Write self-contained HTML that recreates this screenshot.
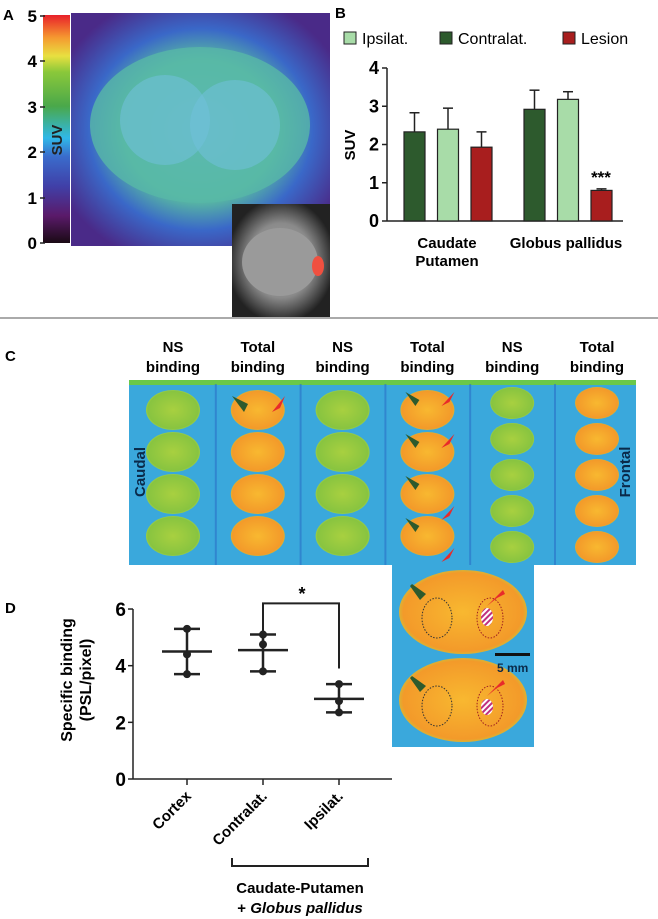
<!DOCTYPE html>
<html><head><meta charset="utf-8"><style>
body{margin:0;background:#fff;font-family:"Liberation Sans",Arial,sans-serif;}
#root{position:relative;width:658px;height:919px;overflow:hidden;}
.abs{position:absolute;}
</style></head><body>
<div id="root">
<svg class="abs" style="left:0;top:0" width="658" height="919">
<defs>
<linearGradient id="cbar" x1="0" y1="1" x2="0" y2="0">
<stop offset="0" stop-color="#1a0a14"/><stop offset="0.12" stop-color="#5a1a6a"/><stop offset="0.25" stop-color="#4040a8"/>
<stop offset="0.38" stop-color="#3a6ccc"/><stop offset="0.46" stop-color="#30b8e8"/><stop offset="0.6" stop-color="#4aa84a"/>
<stop offset="0.75" stop-color="#8ac83a"/><stop offset="0.82" stop-color="#e8e040"/><stop offset="0.9" stop-color="#f59a30"/><stop offset="1" stop-color="#e8202a"/>
</linearGradient>
<radialGradient id="pet" cx="0.5" cy="0.5" r="0.6">
<stop offset="0" stop-color="#6ac0d0"/><stop offset="0.5" stop-color="#5abca0"/><stop offset="0.72" stop-color="#3a68c8"/><stop offset="1" stop-color="#4a2a88"/>
</radialGradient>
<radialGradient id="mri" cx="0.5" cy="0.5" r="0.55">
<stop offset="0" stop-color="#a8a8a8"/><stop offset="0.6" stop-color="#8a8a8a"/><stop offset="1" stop-color="#222"/>
</radialGradient>
<radialGradient id="orange" cx="0.5" cy="0.5" r="0.55">
<stop offset="0" stop-color="#f8b830"/><stop offset="0.85" stop-color="#f39a2a"/><stop offset="1" stop-color="#b8d840"/>
</radialGradient>
<radialGradient id="green" cx="0.5" cy="0.5" r="0.55">
<stop offset="0" stop-color="#a8d040"/><stop offset="0.85" stop-color="#88c440"/><stop offset="1" stop-color="#b8e050"/>
</radialGradient>
<pattern id="hatch" width="4" height="4" patternUnits="userSpaceOnUse" patternTransform="rotate(45)">
<rect width="4" height="4" fill="#fff"/><rect width="2" height="4" fill="#c03080"/></pattern>
</defs>
<!-- Panel A -->
<g>
<text x="3" y="20" font-size="15" font-weight="bold">A</text>
<rect x="43" y="15" width="27" height="228" fill="url(#cbar)"/>
<g font-weight="bold" font-size="17" text-anchor="end">
<text x="37" y="22">5</text><text x="37" y="67">4</text><text x="37" y="113">3</text><text x="37" y="158">2</text><text x="37" y="204">1</text><text x="37" y="249">0</text>
</g>
<g stroke="#222" stroke-width="1.5"><line x1="40" y1="16" x2="45" y2="16"/><line x1="40" y1="61" x2="45" y2="61"/><line x1="40" y1="107" x2="45" y2="107"/><line x1="40" y1="152" x2="45" y2="152"/><line x1="40" y1="198" x2="45" y2="198"/><line x1="40" y1="243" x2="45" y2="243"/></g>
<text transform="translate(62,140) rotate(-90)" font-weight="bold" font-size="15" text-anchor="middle" fill="#222">SUV</text>
<rect x="71" y="13" width="259" height="233" fill="url(#pet)"/>
<ellipse cx="200" cy="125" rx="110" ry="78" fill="#58b8a8" opacity="0.8"/>
<ellipse cx="165" cy="120" rx="45" ry="45" fill="#70c0d8" opacity="0.6"/>
<ellipse cx="235" cy="125" rx="45" ry="45" fill="#70c0d8" opacity="0.6"/>
<rect x="232" y="204" width="98" height="113" fill="url(#mri)"/>
<ellipse cx="280" cy="262" rx="38" ry="34" fill="#9a9a9a"/>
<ellipse cx="318" cy="266" rx="6" ry="10" fill="#f05040"/>
<line x1="0" y1="318" x2="658" y2="318" stroke="#777" stroke-width="1.2"/>
</g>
<!-- Panel B -->
<g id="chartB">
<text x="335" y="18" font-weight="bold" font-size="15">B</text>
<rect x="344" y="32" width="12" height="12" fill="#a8dca8" stroke="#222"/>
<text x="362" y="44" font-size="16">Ipsilat.</text>
<rect x="440" y="32" width="12" height="12" fill="#2d5a2d" stroke="#222"/>
<text x="458" y="44" font-size="16">Contralat.</text>
<rect x="563" y="32" width="12" height="12" fill="#a81e1e" stroke="#222"/>
<text x="581" y="44" font-size="16">Lesion</text>
<text transform="translate(355,145) rotate(-90)" font-weight="bold" font-size="15" text-anchor="middle">SUV</text>
</g>
<!-- Panel C -->
<g>
<text x="5" y="361" font-weight="bold" font-size="15">C</text>
<rect x="129" y="380" width="507" height="185" fill="#3aa8dc"/>
<rect x="129" y="380" width="507" height="5" fill="#6ac84a"/>
<g id="cols"></g>
<text transform="translate(145,472) rotate(-90)" font-weight="bold" font-size="15" text-anchor="middle" fill="#0a2a4a">Caudal</text>
<text transform="translate(630,472) rotate(-90)" font-weight="bold" font-size="15" text-anchor="middle" fill="#0a2a4a">Frontal</text>
<rect x="392" y="565" width="142" height="182" fill="#3aa8dc"/>
<ellipse cx="463" cy="612" rx="64" ry="42" fill="url(#orange)"/>
<ellipse cx="463" cy="700" rx="64" ry="42" fill="url(#orange)"/>
<ellipse cx="437" cy="618" rx="15" ry="20" fill="none" stroke="#333" stroke-dasharray="1.5 1.5"/>
<ellipse cx="490" cy="618" rx="13" ry="20" fill="none" stroke="#a02020" stroke-dasharray="1.5 1.5"/>
<ellipse cx="487" cy="617" rx="6" ry="9" fill="url(#hatch)"/>
<ellipse cx="437" cy="706" rx="15" ry="20" fill="none" stroke="#333" stroke-dasharray="1.5 1.5"/>
<ellipse cx="490" cy="706" rx="13" ry="20" fill="none" stroke="#a02020" stroke-dasharray="1.5 1.5"/>
<ellipse cx="487" cy="707" rx="6" ry="8" fill="url(#hatch)"/>
<polygon points="410,586 420,600 426,594 412,584" fill="#2d5a2d"/>
<polygon points="410,678 420,692 426,686 412,676" fill="#2d5a2d"/>
<polygon points="503,590 487,606 497,598 505,594" fill="#e82a2a"/>
<polygon points="503,680 487,696 497,688 505,684" fill="#e82a2a"/>
<rect x="495" y="653" width="35" height="3" fill="#111"/>
<text x="497" y="672" font-weight="bold" font-size="12" fill="#0a2a4a">5 mm</text>
</g>
<!-- Panel D -->
<g id="chartD">
<text x="5" y="613" font-weight="bold" font-size="15">D</text>
<text transform="translate(72,680) rotate(-90)" font-weight="bold" font-size="16" text-anchor="middle">Specific binding</text>
<text transform="translate(91,680) rotate(-90)" font-weight="bold" font-size="16" text-anchor="middle">(PSL/pixel)</text>
<line x1="231" y1="866" x2="368" y2="866" stroke="#222" stroke-width="2"/>
<line x1="232" y1="858" x2="232" y2="867" stroke="#222" stroke-width="2"/>
<line x1="368" y1="858" x2="368" y2="867" stroke="#222" stroke-width="2"/>
<text x="300" y="893" font-weight="bold" font-size="15" text-anchor="middle">Caudate-Putamen</text>
<text x="300" y="913" font-weight="bold" font-size="15" text-anchor="middle">+ <tspan font-style="italic">Globus pallidus</tspan></text>
</g>
</svg>
</div>
<script>
const NS="http://www.w3.org/2000/svg";
function mk(p,t,a){const e=document.createElementNS(NS,t);for(const k in a)e.setAttribute(k,a[k]);p.appendChild(e);return e;}
// Chart B data
const bGroups=["Caudate Putamen","Globus pallidus"];
const bSeries=["Contralat.","Ipsilat.","Lesion"];
const bColors=["#2d5a2d","#a8dca8","#a81e1e"];
const bMeans=[[2.33,2.4,1.93],[2.92,3.18,0.8]];
const bErr=[[0.5,0.55,0.4],[0.5,0.2,0.04]];
const bTicks=[0,1,2,3,4];
const bY=v=>221-v*38.25;
const gB=document.getElementById('chartB');
mk(gB,'line',{x1:387,y1:bY(0),x2:623,y2:bY(0),stroke:'#222','stroke-width':1.5});
mk(gB,'line',{x1:387,y1:bY(0),x2:387,y2:bY(4),stroke:'#222','stroke-width':1.5});
bTicks.forEach(t=>{mk(gB,'line',{x1:382,y1:bY(t),x2:387,y2:bY(t),stroke:'#222','stroke-width':1.5});
 const tx=mk(gB,'text',{x:379,y:bY(t)+6,'text-anchor':'end','font-size':18,'font-weight':'bold'});tx.textContent=t;});
const gStart=[404,524];
bMeans.forEach((g,gi)=>g.forEach((v,si)=>{
 const x=gStart[gi]+si*33.5,w=21;
 const ex=x+w/2;
 const el=mk(gB,'line',{x1:ex,y1:bY(v),x2:ex,y2:bY(v+bErr[gi][si]),stroke:'#222','stroke-width':1.5});
 
 
 mk(gB,'line',{x1:ex-5,y1:bY(v+bErr[gi][si]),x2:ex+5,y2:bY(v+bErr[gi][si]),stroke:'#222','stroke-width':1.5});
 const r=mk(gB,'rect',{x:x,y:bY(v),width:w,height:bY(0)-bY(v),fill:bColors[si],stroke:'#222','stroke-width':1.2});
 
 
}));
let t1=mk(gB,'text',{x:447,y:248,'text-anchor':'middle','font-size':15,'font-weight':'bold'});t1.textContent='Caudate';
let t2=mk(gB,'text',{x:447,y:266,'text-anchor':'middle','font-size':15,'font-weight':'bold'});t2.textContent='Putamen';
let t3=mk(gB,'text',{x:566,y:248,'text-anchor':'middle','font-size':15,'font-weight':'bold'});t3.textContent='Globus pallidus';
let t4=mk(gB,'text',{x:601,y:183,'text-anchor':'middle','font-size':17,'font-weight':'bold'});t4.textContent='***';

// Panel C slices
const colN=[4,4,4,4,5,5];const colType=['green','orange','green','orange','green','orange'];
const gC=document.getElementById('cols');
const heads=[["NS","binding"],["Total","binding"],["NS","binding"],["Total","binding"],["NS","binding"],["Total","binding"]];
colN.forEach((n,i)=>{
 const cx=173+i*84.8;
 if(i>0) mk(gC,'line',{x1:cx-42,y1:384,x2:cx-42,y2:565,stroke:'#2a70c8','stroke-width':2,opacity:0.6});
 const h=mk(gC,'text',{x:cx,y:352,'text-anchor':'middle','font-size':15,'font-weight':'bold'});h.textContent=heads[i][0];
 const h2=mk(gC,'text',{x:cx,y:372,'text-anchor':'middle','font-size':15,'font-weight':'bold'});h2.textContent=heads[i][1];
 const step=n===4?42:36;const ry=n===4?20:16;const rx=n===4?27:22;const y0=n===4?410:403;
 for(let k=0;k<n;k++){
  mk(gC,'ellipse',{cx:cx,cy:y0+k*step,rx:rx,ry:ry,fill:'url(#'+colType[i]+')'});
 }
 if(i===3){for(let k=0;k<4;k++){
  const y=396+k*42;
  mk(gC,'polygon',{points:`${cx-22},${y-4} ${cx-12},${y+10} ${cx-8},${y+4}`,fill:'#2d5a2d'});
  mk(gC,'polygon',{points:`${cx+27},${y-4+(k>1?30:0)} ${cx+14},${y+10+(k>1?30:0)} ${cx+22},${y+6+(k>1?30:0)}`,fill:'#e82a2a'});
 }}
});
mk(gC,'polygon',{points:'232,396 244,412 248,404',fill:'#2d5a2d'});
mk(gC,'polygon',{points:'285,396 272,412 280,408',fill:'#e82a2a'});

// Chart D data
const dCats=["Cortex","Contralat.","Ipsilat."];
const dPoints=[[5.3,4.4,3.7],[5.1,4.75,3.8],[3.35,2.75,2.35]];
const dMean=[4.5,4.55,2.83];
const dTicks=[0,2,4,6];
const dY=v=>779-v*28.33;const dX=i=>187+i*76;
const gD=document.getElementById('chartD');
mk(gD,'line',{x1:133,y1:dY(0),x2:392,y2:dY(0),stroke:'#222','stroke-width':1.5});
mk(gD,'line',{x1:133,y1:dY(0),x2:133,y2:dY(6),stroke:'#222','stroke-width':1.5});
dTicks.forEach(t=>{mk(gD,'line',{x1:128,y1:dY(t),x2:133,y2:dY(t),stroke:'#222','stroke-width':1.5});
 const tx=mk(gD,'text',{x:126,y:dY(t)+7,'text-anchor':'end','font-size':19,'font-weight':'bold'});tx.textContent=t;});
dCats.forEach((c,i)=>{
 const x=dX(i);
 mk(gD,'line',{x1:x,y1:dY(0),x2:x,y2:dY(0)+6,stroke:'#222','stroke-width':1.5});
 const lb=mk(gD,'text',{x:x+5,y:dY(0)+18,'text-anchor':'end','font-size':15,'font-weight':'bold',transform:`rotate(-45 ${x+5} ${dY(0)+18})`});lb.textContent=c;
 const p=dPoints[i];const mx=Math.max(...p),mn=Math.min(...p);
 mk(gD,'line',{x1:x,y1:dY(mx),x2:x,y2:dY(mn),stroke:'#222','stroke-width':2.5});
 mk(gD,'line',{x1:x-13,y1:dY(mx),x2:x+13,y2:dY(mx),stroke:'#222','stroke-width':2.5});
 mk(gD,'line',{x1:x-13,y1:dY(mn),x2:x+13,y2:dY(mn),stroke:'#222','stroke-width':2.5});
 const m=mk(gD,'line',{x1:x-25,y1:dY(dMean[i]),x2:x+25,y2:dY(dMean[i]),stroke:'#222','stroke-width':2.5});
 
 
 p.forEach(v=>{const d=mk(gD,'circle',{cx:x,cy:dY(v),r:4,fill:'#222'});
  
  });
});
mk(gD,'polyline',{points:`${dX(1)},${dY(4.75)-10} ${dX(1)},${dY(6.2)} ${dX(2)},${dY(6.2)} ${dX(2)},${dY(3.9)}`,fill:'none',stroke:'#222','stroke-width':2});
const st=mk(gD,'text',{x:302,y:600,'text-anchor':'middle','font-size':18,'font-weight':'bold'});st.textContent='*';
</script>
</body></html>
